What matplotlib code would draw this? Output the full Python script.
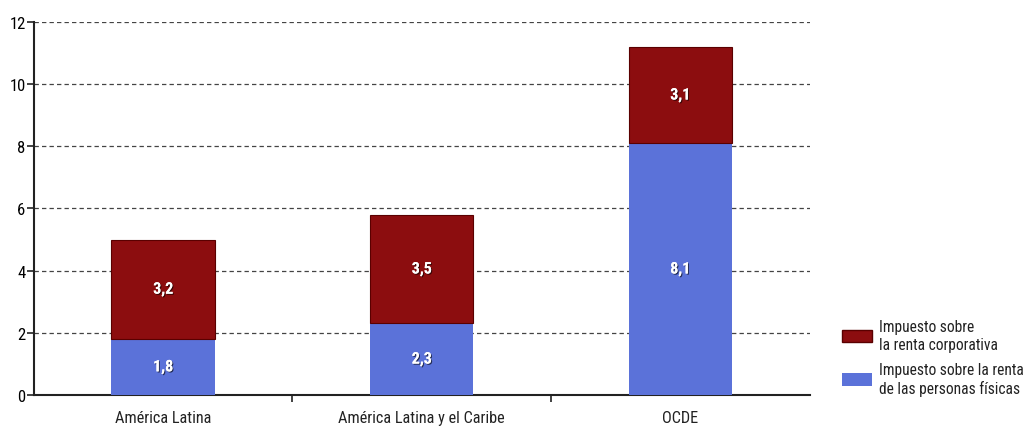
import matplotlib.pyplot as plt
import matplotlib.patheffects as pe
from matplotlib.patches import Patch
from matplotlib import font_manager

names = {f.name for f in font_manager.fontManager.ttflist}
cands = ['Roboto Condensed', 'Liberation Sans Narrow', 'Roboto', 'DejaVu Sans']
fam = next(c for c in cands if c in names)
plt.rcParams['font.family'] = [fam, 'DejaVu Sans']

# Data
regions = ['América Latina', 'América Latina y el Caribe', 'OCDE']
personas = [1.8, 2.3, 8.1]
corporativa = [3.2, 3.5, 3.1]
labels_pers = ['1,8', '2,3', '8,1']
labels_corp = ['3,2', '3,5', '3,1']

red = '#8c0d0f'
blue = '#5b72d9'

fig = plt.figure(figsize=(10.26, 4.27), dpi=100)
ax = fig.add_axes([0.033, 0.073, 0.756, 0.873])

x = range(len(regions))
ax.bar(x, personas, width=0.4, color=blue, zorder=3)
ax.bar(x, corporativa, width=0.4, bottom=personas, color=red,
       edgecolor='#5a0000', linewidth=0.8, zorder=3)

shadow = [pe.withSimplePatchShadow(offset=(0.8, -0.8), shadow_rgbFace='black', alpha=0.6), pe.Normal()]
for i in x:
    ax.text(i, personas[i] / 2, labels_pers[i], ha='center', va='center',
            color='white', fontsize=11.5, fontweight='bold', zorder=4, path_effects=shadow)
    ax.text(i, personas[i] + corporativa[i] / 2, labels_corp[i], ha='center', va='center',
            color='white', fontsize=11.5, fontweight='bold', zorder=4, path_effects=shadow)

ax.set_xlim(-0.5, 2.5)
ax.set_ylim(0, 12)
ax.set_yticks(range(0, 13, 2))
ax.yaxis.grid(True, linestyle=(0, (3.5, 2.5)), color='#444444', linewidth=0.9)
ax.set_axisbelow(True)

ax.set_xticks([0.5, 1.5])
ax.set_xticklabels([])
ax.tick_params(axis='x', length=5, width=1.2, color='#222222')
ax.tick_params(axis='y', length=5, width=1.2, color='#222222', labelsize=12, pad=1)
for i, r in enumerate(regions):
    ax.text(i, -0.5, r, ha='center', va='top', fontsize=11.7, color='#222222')

for s in ['top', 'right']:
    ax.spines[s].set_visible(False)
ax.spines['left'].set_linewidth(1.5)
ax.spines['bottom'].set_linewidth(1.5)
ax.spines['left'].set_color('#222222')
ax.spines['bottom'].set_color('#222222')

handles = [Patch(facecolor=red, edgecolor='#5a0000'), Patch(facecolor=blue)]
fig.legend(handles, ['Impuesto sobre\nla renta corporativa',
                     'Impuesto sobre la renta\nde las personas físicas'],
           loc='lower left', bbox_to_anchor=(0.821, 0.07), frameon=False,
           fontsize=11.2, handlelength=1.9, handleheight=0.9, handletextpad=0.45,
           labelspacing=0.7, labelcolor='#222222', borderpad=0.0, borderaxespad=0.0)

fig.savefig('out.png', dpi=100)
